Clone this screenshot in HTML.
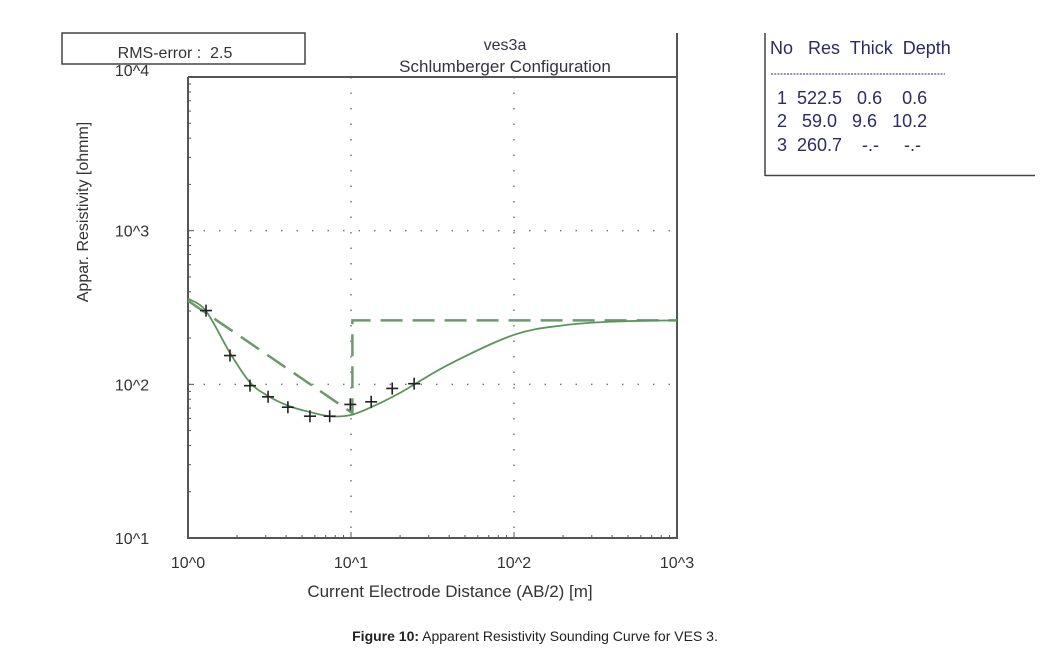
<!DOCTYPE html>
<html><head><meta charset="utf-8"><style>
body{margin:0;background:#fff;width:1041px;height:658px;overflow:hidden;font-family:"Liberation Sans",sans-serif}
svg{position:absolute;left:0;top:0}
</style></head><body>
<svg width="1041" height="658">
<g id="grid"></g>
<g id="axes"></g>
<g id="series"></g>
<g id="labels" font-size="15" fill="#333"></g>
<rect x="62" y="33" width="243" height="31" fill="#fff" stroke="#444" stroke-width="1.5"/>
<text x="175" y="58" font-size="16" fill="#333" text-anchor="middle">RMS-error :&#160; 2.5</text>
<text x="505" y="50" font-size="16" fill="#334" text-anchor="middle">ves3a</text>
<text x="505" y="72" font-size="17" fill="#334" text-anchor="middle">Schlumberger Configuration</text>
<g font-size="18" fill="#2b2b66">
<line x1="765" y1="33" x2="765" y2="176" stroke="#444" stroke-width="1.5"/>
<line x1="765" y1="175.5" x2="1035" y2="175.5" stroke="#444" stroke-width="1.5"/>
<text x="770" y="54" xml:space="preserve">No   Res  Thick  Depth</text>
<line x1="771" y1="74" x2="945" y2="74" stroke="#2b2b66" stroke-dasharray="2,1.2" stroke-width="1"/>
<text x="777" y="104" xml:space="preserve">1  522.5   0.6    0.6</text>
<text x="777" y="127" xml:space="preserve">2   59.0   9.6   10.2</text>
<text x="777" y="151" xml:space="preserve">3  260.7    -.-     -.-</text>
</g>
<text x="535" y="641" font-size="14" fill="#222" text-anchor="middle"><tspan font-weight="bold">Figure 10:</tspan> Apparent Resistivity Sounding Curve for VES 3.</text>
</svg>
<script>
const obsAB=[1.29,1.81,2.4,3.1,4.1,5.6,7.4,9.9,13.3,17.9,24.4];
const obsRho=[302,154,98,83,71,62,62,74,77,94,101];
const fitAB=[1,1.29,1.81,2.4,3.1,4.2,5.6,7.4,9.9,13.3,20,40,100,200,400,1000];
const fitRho=[361,300,160,103,84,72,66,62,63,71,88,135,210,242,256,261];
const modelAB=[1,10.2,10.2,1000];
const modelRho=[350,65,260.7,260.7];
const xTicks=["10^0","10^1","10^2","10^3"];
const yTicks=["10^1","10^2","10^3","10^4"];
const X0=188,X1=677,Y0=538,Y1=77;
const xs=v=>X0+Math.log10(v)/3*(X1-X0);
const ys=v=>Y0-(Math.log10(v)-1)/3*(Y0-Y1);
const NS="http://www.w3.org/2000/svg";
function mk(p,t,a){const e=document.createElementNS(NS,t);for(const k in a)e.setAttribute(k,a[k]);document.getElementById(p).appendChild(e);return e;}
for(let d=1;d<3;d++){let x=xs(Math.pow(10,d));
let l=mk('grid','line',{x1:x,y1:Y1,x2:x,y2:Y0,stroke:'#777','stroke-dasharray':'1.5,14','stroke-width':1.5});
}
for(let d=2;d<4;d++){let y=ys(Math.pow(10,d));
let l=mk('grid','line',{x1:X0,y1:y,x2:X1,y2:y,stroke:'#777','stroke-dasharray':'1.5,14','stroke-width':1.5});
}
let ax=mk('axes','path',{d:`M${X0},${Y1}V${Y0}H${X1}V33M${X0},${Y1}H${X1}`,fill:'none',stroke:'#555','stroke-width':2});

for(let d=0;d<3;d++)for(let m=2;m<=10;m++){let v=m*Math.pow(10,d);let x=xs(v);
let t=mk('axes','line',{x1:x,y1:Y0,x2:x,y2:Y0-(m==10?6:3),stroke:'#555','stroke-width':1});
}
for(let d=1;d<4;d++)for(let m=2;m<=10;m++){let v=m*Math.pow(10,d);let y=ys(v);
let t=mk('axes','line',{x1:X0,y1:y,x2:X0+(m==10?6:3),y2:y,stroke:'#555','stroke-width':1});
}
xTicks.forEach((s,i)=>{let t=mk('labels','text',{x:X0+i*(X1-X0)/3,y:568,'text-anchor':'middle','font-size':16});t.textContent=s;
});
yTicks.forEach((s,i)=>{let t=mk('labels','text',{x:132,y:Y0-i*(Y0-Y1)/3+(i==3?-1:6),'text-anchor':'middle','font-size':16});t.textContent=s;
});
let xt=mk('labels','text',{x:450,y:597,'text-anchor':'middle','font-size':17});xt.textContent='Current Electrode Distance (AB/2) [m]';

let yt=mk('labels','text',{x:0,y:0,'text-anchor':'middle','font-size':16,transform:'translate(88,212) rotate(-90)'});yt.textContent='Appar. Resistivity [ohmm]';

let md=modelAB.map((v,i)=>(i?'L':'M')+xs(v)+','+ys(modelRho[i])).join('');
let mp=mk('series','path',{d:md,fill:'none',stroke:'#6a9a6a','stroke-width':2.5,'stroke-dasharray':'22,10'});

// smooth catmull-rom through fit points
const P=fitAB.map((v,i)=>[xs(v),ys(fitRho[i])]);
let fd='M'+P[0][0]+','+P[0][1];
for(let i=0;i<P.length-1;i++){const p0=P[Math.max(0,i-1)],p1=P[i],p2=P[i+1],p3=P[Math.min(P.length-1,i+2)];
fd+=`C${p1[0]+(p2[0]-p0[0])/6},${p1[1]+(p2[1]-p0[1])/6} ${p2[0]-(p3[0]-p1[0])/6},${p2[1]-(p3[1]-p1[1])/6} ${p2[0]},${p2[1]}`;}
let fp=mk('series','path',{d:fd,fill:'none',stroke:'#5c955c','stroke-width':1.8});

obsAB.forEach((v,i)=>{let x=xs(v),y=ys(obsRho[i]);
let p=mk('series','path',{d:`M${x-6},${y}H${x+6}M${x},${y-6}V${y+6}`,stroke:'#222','stroke-width':1.6});
});
</script>
</body></html>
